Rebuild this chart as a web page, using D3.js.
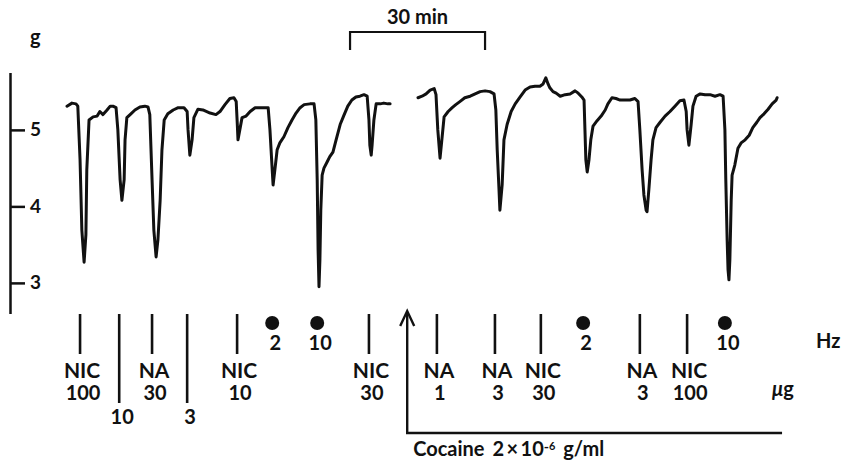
<!DOCTYPE html>
<html>
<head>
<meta charset="utf-8">
<script src="https://cdn.jsdelivr.net/npm/d3@7"></script>
<style>
  body { margin: 0; background: #fff; }
  svg { display: block; }
  text { font-family: Lato, "Open Sans", sans-serif; font-weight: 700; fill: #111; }
</style>
</head>
<body>
<svg width="849" height="462"></svg>
<script>
// tension trace, [time in min, tension in g]
const traceA = [
  [0, 5.31], [1.1, 5.35], [2.0, 5.34], [2.4, 5.31], [2.9, 4.61], [3.3, 3.69], [3.8, 3.27], [4.2, 3.63], [4.4, 4.48],
  [4.9, 5.13], [5.8, 5.17], [6.7, 5.18], [7.3, 5.24], [8.0, 5.20], [8.9, 5.26], [9.6, 5.31], [10.2, 5.31], [10.9, 5.29],
  [11.3, 5.00], [11.8, 4.35], [12.2, 4.08], [12.7, 4.35], [12.9, 4.87], [13.3, 5.16], [14.2, 5.21], [15.1, 5.26],
  [16.2, 5.30], [17.3, 5.31], [18.0, 5.30], [18.4, 5.20], [18.9, 4.35], [19.3, 3.69], [19.8, 3.34], [20.2, 3.56],
  [20.7, 4.08], [21.1, 4.74], [21.6, 5.13], [22.4, 5.21], [23.6, 5.26], [24.7, 5.29], [26.0, 5.29], [26.7, 5.24],
  [26.9, 5.00], [27.3, 4.67], [27.8, 4.87], [28.2, 5.16], [29.1, 5.27], [30.2, 5.26], [31.8, 5.22], [33.1, 5.20],
  [34.0, 5.24], [35.1, 5.33], [36.2, 5.41], [37.1, 5.42], [37.6, 5.37], [37.8, 5.13], [38.0, 4.87], [38.4, 5.00],
  [38.9, 5.16], [39.8, 5.18], [40.7, 5.24], [41.8, 5.29], [43.3, 5.29], [44.7, 5.29], [45.1, 5.00], [45.6, 4.48],
  [45.8, 4.28], [46.2, 4.48], [46.7, 4.74], [47.3, 4.83], [48.2, 4.91], [49.1, 5.03], [50.0, 5.13], [50.9, 5.22],
  [51.8, 5.29], [52.7, 5.33], [54.0, 5.34], [54.9, 5.34], [55.3, 5.13], [55.6, 4.35], [55.8, 3.43], [56.0, 2.95],
  [56.2, 3.30], [56.4, 3.95], [56.7, 4.41], [57.1, 4.50], [57.8, 4.58], [58.4, 4.65], [59.1, 4.71], [59.8, 4.87],
  [60.7, 5.07], [61.6, 5.20], [62.4, 5.31], [63.3, 5.39], [64.2, 5.43], [65.1, 5.44], [66.0, 5.46], [66.7, 5.44],
  [67.1, 5.13], [67.3, 4.80], [67.6, 4.67], [67.8, 4.80], [68.2, 5.13], [68.7, 5.34], [69.6, 5.34], [70.4, 5.35],
  [71.3, 5.34], [71.8, 5.34]
];
const traceB = [
  [78.0, 5.42], [78.9, 5.44], [79.8, 5.47], [80.7, 5.52], [81.6, 5.54], [82.0, 5.46], [82.4, 5.00], [82.9, 4.63],
  [83.3, 4.87], [83.8, 5.17], [84.7, 5.24], [85.6, 5.29], [86.4, 5.33], [87.3, 5.37], [88.4, 5.42], [89.6, 5.44],
  [90.7, 5.47], [91.8, 5.50], [92.9, 5.51], [94.0, 5.50], [94.9, 5.47], [95.3, 5.26], [95.6, 4.74], [96.0, 4.22],
  [96.2, 3.95], [96.7, 4.28], [97.1, 4.87], [97.8, 5.07], [98.7, 5.24], [99.6, 5.34], [100.7, 5.43], [101.8, 5.52],
  [102.9, 5.56], [104.0, 5.57], [105.1, 5.57], [105.8, 5.60], [106.4, 5.68], [106.9, 5.60], [107.3, 5.55],
  [108.0, 5.50], [108.7, 5.48], [109.6, 5.44], [110.7, 5.46], [111.8, 5.47], [112.9, 5.51], [113.6, 5.48],
  [114.4, 5.43], [114.9, 5.39], [115.1, 5.00], [115.3, 4.61], [115.6, 4.45], [116.0, 4.61], [116.4, 4.87],
  [116.9, 5.05], [117.8, 5.12], [118.7, 5.18], [119.6, 5.26], [120.2, 5.34], [121.1, 5.42], [122.0, 5.41],
  [122.9, 5.39], [124.0, 5.39], [125.1, 5.39], [126.2, 5.41], [126.9, 5.37], [127.3, 5.00], [127.8, 4.48],
  [128.2, 4.15], [128.7, 3.95], [128.9, 3.93], [129.3, 4.22], [129.8, 4.61], [130.2, 4.87], [130.9, 5.03],
  [131.8, 5.10], [132.9, 5.18], [134.0, 5.24], [135.1, 5.31], [136.2, 5.38], [137.1, 5.39], [137.6, 5.24],
  [137.8, 5.00], [138.2, 4.80], [138.7, 5.07], [139.1, 5.31], [139.8, 5.44], [140.7, 5.47], [141.8, 5.46],
  [142.9, 5.46], [144.0, 5.44], [145.1, 5.46], [145.8, 5.44], [146.2, 5.00], [146.4, 4.35], [146.7, 3.56],
  [146.9, 3.17], [147.1, 3.04], [147.3, 3.30], [147.6, 4.08], [147.8, 4.41], [148.4, 4.54], [149.1, 4.76],
  [149.8, 4.83], [150.7, 4.87], [151.6, 4.93], [152.4, 5.03], [153.3, 5.10], [154.0, 5.16], [154.9, 5.21],
  [155.8, 5.27], [156.7, 5.34], [157.6, 5.39], [157.8, 5.42]
];

const gTicks = [3, 4, 5];

// drug additions / field stimulations
const markerTimes = [2.9, 11.6, 18.9, 26.7, 37.8, 45.6, 55.6, 67.1, 82.2, 95.1, 105.3, 114.7, 127.3, 137.8, 146.2];
const markerKinds = ['drug', 'long', 'drug', 'long', 'drug', 'stim', 'stim', 'drug', 'drug', 'drug', 'drug', 'stim', 'drug', 'drug', 'stim'];
const markerDrugs = ['NIC', '', 'NA', '', 'NIC', '', '', 'NIC', 'NA', 'NA', 'NIC', '', 'NA', 'NIC', ''];
const markerDoses = ['100', '10', '30', '3', '10', '2', '10', '30', '1', '3', '30', '2', '3', '100', '10'];

const cocaineStart = 75.6;
const cocaineEnd = 158.9;
const scaleBarStart = 62.9;
const scaleBarLength = 30;

const svg = d3.select('svg');

const xScale = d3.scaleLinear()
  .domain([0, 180])
  .range([67, 877]);
const yScale = d3.scaleLinear()
  .domain([2.6, 5.75])
  .range([313.5, 72.5]);

// y axis
const yAxis = d3.axisRight(yScale)
  .tickValues(gTicks)
  .tickFormat(d3.format('d'))
  .tickSize(15)
  .tickSizeOuter(0)
  .tickPadding(5);

const yAxisG = svg.append('g')
  .attr('transform', 'translate(10,0)')
  .call(yAxis);
yAxisG.attr('font-family', null).attr('font-size', null);
yAxisG.select('.domain').attr('stroke', '#111').attr('stroke-width', 2.5);
yAxisG.selectAll('.tick line').attr('stroke', '#111').attr('stroke-width', 2.5);
yAxisG.selectAll('.tick text').style('font-size', '19px');

svg.append('text')
  .attr('x', 30)
  .attr('y', 44)
  .style('font-size', '20px')
  .text('g');

// trace
const line = d3.line()
  .x(d => xScale(d[0]))
  .y(d => yScale(d[1]));

svg.selectAll('path.trace').data([traceA, traceB])
  .enter().append('path')
    .attr('class', 'trace')
    .attr('d', line)
    .attr('fill', 'none')
    .attr('stroke', '#111')
    .attr('stroke-width', 3)
    .attr('stroke-linejoin', 'round')
    .attr('stroke-linecap', 'round');

// 30 min bar
const sb0 = xScale(scaleBarStart);
const sb1 = xScale(scaleBarStart + scaleBarLength);
svg.append('path')
  .attr('d', `M${sb0},50 V32 H${sb1} V50`)
  .attr('fill', 'none')
  .attr('stroke', '#111')
  .attr('stroke-width', 2.2);
svg.append('text')
  .attr('x', (sb0 + sb1) / 2)
  .attr('y', 24)
  .attr('text-anchor', 'middle')
  .style('font-size', '20px')
  .text('30 min');

// markers
const markers = markerTimes.map((t, i) => ({
  t, kind: markerKinds[i], drug: markerDrugs[i], dose: markerDoses[i]
}));

const mG = svg.append('g');
mG.selectAll('line.mark').data(markers.filter(d => d.kind !== 'stim'))
  .enter().append('line')
    .attr('x1', d => xScale(d.t))
    .attr('x2', d => xScale(d.t))
    .attr('y1', 314)
    .attr('y2', d => d.kind === 'long' ? 403 : 354)
    .attr('stroke', '#111')
    .attr('stroke-width', 2.6);

mG.selectAll('circle').data(markers.filter(d => d.kind === 'stim'))
  .enter().append('circle')
    .attr('cx', d => xScale(d.t))
    .attr('cy', 323)
    .attr('r', 7)
    .attr('fill', '#111');

mG.selectAll('text.drug').data(markers.filter(d => d.drug))
  .enter().append('text')
    .attr('class', 'drug')
    .attr('x', d => xScale(d.t) + 2)
    .attr('y', 378)
    .attr('text-anchor', 'middle')
    .style('font-size', '21px')
    .text(d => d.drug);

mG.selectAll('text.dose').data(markers)
  .enter().append('text')
    .attr('class', 'dose')
    .attr('x', d => xScale(d.t) + 3)
    .attr('y', d => d.kind === 'stim' ? 350 : d.kind === 'long' ? 424 : 400)
    .attr('text-anchor', 'middle')
    .style('font-size', '20px')
    .text(d => d.dose);

svg.append('text')
  .attr('x', 816)
  .attr('y', 348)
  .style('font-size', '20px')
  .text('Hz');

svg.append('text')
  .attr('x', 772)
  .attr('y', 396)
  .style('font-size', '20px')
  .html('<tspan font-style="italic">μ</tspan>g');

// cocaine arrow
const cx0 = xScale(cocaineStart);
const cx1 = xScale(cocaineEnd);
svg.append('path')
  .attr('d', `M${cx0},312 V433 H${cx1}`)
  .attr('fill', 'none')
  .attr('stroke', '#111')
  .attr('stroke-width', 2.4);
svg.append('path')
  .attr('d', `M${cx0 - 7},326 L${cx0},311 L${cx0 + 7},326`)
  .attr('fill', 'none')
  .attr('stroke', '#111')
  .attr('stroke-width', 2.4);

const cocaineText = svg.append('text')
  .attr('x', cx0 + 6)
  .attr('y', 456)
  .style('font-size', '20px')
  .style('word-spacing', '3px');
cocaineText.append('tspan').text('Cocaine  2\u2009\u00d7\u200910');
cocaineText.append('tspan').attr('dy', -4).style('font-size', '14px').text('-');
cocaineText.append('tspan').attr('dy', -2).style('font-size', '11px').text('6');
cocaineText.append('tspan').attr('dy', 6).text(' g/ml');
</script>
</body>
</html>
